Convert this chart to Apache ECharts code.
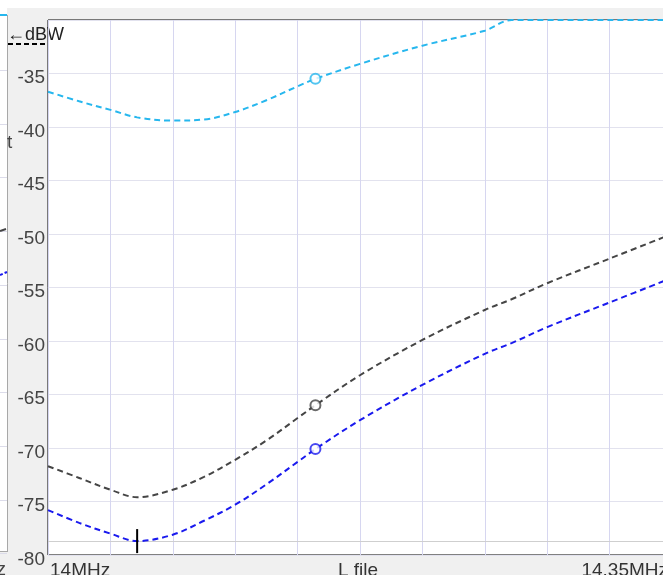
<!DOCTYPE html>
<html><head><meta charset="utf-8">
<script src="https://cdn.jsdelivr.net/npm/echarts@6/dist/echarts.min.js"></script>
<style>html,body{margin:0;padding:0;background:#f0f0f0;overflow:hidden}#c{width:663px;height:575px}</style>
</head><body><div id="c"></div>
<script>
// Frequencies (MHz)
const freqs   = [14.0, 14.0175, 14.035, 14.05, 14.07, 14.0875, 14.105, 14.1225, 14.14, 14.15, 14.175, 14.21, 14.245, 14.26, 14.28, 14.315, 14.35];
// Levels (dBW)
const cyanDbw = [-36.7, -37.6, -38.4, -39.1, -39.4, -39.3, -38.6, -37.5, -36.2, -35.5, -34.1, -32.4, -31.0, -30.0, -30.0, -30.0, -30.0];
const grayDbw = [-71.7, -72.8, -73.9, -74.6, -73.9, -72.7, -71.1, -69.3, -67.2, -66.0, -63.2, -59.9, -57.1, -56.1, -54.6, -52.3, -50.0];
const blueDbw = [-75.8, -77.0, -78.0, -78.7, -78.1, -76.8, -75.3, -73.4, -71.3, -70.1, -67.4, -64.1, -61.2, -60.2, -58.7, -56.4, -54.1];
const markerIndex = 9;   // 14.15 MHz
const minIndex = 3;      // 14.05 MHz
const yMin = -80, yMax = -30, yStep = 5;
const xMin = 14.0, xMax = 14.35, xStep = 0.035;
const unitLabel = '←dBW';
const xLabels = ['14MHz', 'L file', '14.35MHz'];

const FONT = '"Liberation Sans", Arial, sans-serif';
const pairs = arr => freqs.map((f, i) => [f, arr[i]]);
const dash = [6, 4];

const chart = echarts.init(document.getElementById('c'), null, {renderer: 'canvas'});

const leftGridYs = [];
for (let k = 0; k < 10; k++) leftGridYs.push(70 + 53.7 * k);

const graphics = [
  {type: 'rect', shape: {x: 0, y: 0, width: 663, height: 8}, style: {fill: '#fff'}, silent: true},
  {type: 'rect', shape: {x: 0, y: 0, width: 7, height: 552}, style: {fill: '#fff'}, silent: true},
  ...leftGridYs.map(y => ({type: 'line', shape: {x1: 0, y1: Math.round(y) + 0.5, x2: 7, y2: Math.round(y) + 0.5}, style: {stroke: '#dcdcea', lineWidth: 1}, silent: true})),
  {type: 'line', shape: {x1: 7.5, y1: 15, x2: 7.5, y2: 552}, style: {stroke: '#a8a8a8', lineWidth: 1}, silent: true},
  {type: 'line', shape: {x1: 0, y1: 551.5, x2: 7.5, y2: 551.5}, style: {stroke: '#a8a8a8', lineWidth: 1}, silent: true},
  {type: 'line', shape: {x1: 0, y1: 15, x2: 7, y2: 15}, style: {stroke: '#27b7ee', lineWidth: 2}, silent: true},
  {type: 'line', shape: {x1: 0, y1: 231, x2: 6, y2: 229}, style: {stroke: '#454545', lineWidth: 2}, silent: true},
  {type: 'line', shape: {x1: 0, y1: 275, x2: 7, y2: 272}, style: {stroke: '#1a1aee', lineWidth: 2, lineDash: [3, 2]}, silent: true},
  {type: 'text', style: {text: 't', x: 7, y: 143, font: '19px ' + FONT, fill: '#444', verticalAlign: 'middle'}, silent: true},
  {type: 'text', style: {text: 'z', x: 6, y: 570, font: '19px ' + FONT, fill: '#444', align: 'right', verticalAlign: 'middle'}, silent: true},
  {type: 'text', style: {text: unitLabel, x: 7, y: 35, font: '18px ' + FONT, fill: '#222', verticalAlign: 'middle'}, silent: true},
  {type: 'line', shape: {x1: 8, y1: 44, x2: 46, y2: 44}, style: {stroke: '#000', lineWidth: 2, lineDash: [5, 3]}, silent: true},
  {type: 'text', style: {text: xLabels[0], x: 50, y: 571, font: '19px ' + FONT, fill: '#333', verticalAlign: 'middle'}, silent: true},
  {type: 'text', style: {text: xLabels[1], x: 338, y: 571, font: '19px ' + FONT, fill: '#333', verticalAlign: 'middle'}, silent: true},
  {type: 'text', style: {text: xLabels[2], x: 668, y: 571, font: '19px ' + FONT, fill: '#333', align: 'right', verticalAlign: 'middle'}, silent: true}
];

function lineSeries(arr, color, extra) {
  return Object.assign({
    type: 'line', data: pairs(arr), smooth: 0.35, symbol: 'none', z: 3,
    lineStyle: {color: color, width: 2, type: dash}
  }, extra || {});
}
function markerSeries(arr, color) {
  return {
    type: 'scatter', data: [[freqs[markerIndex], arr[markerIndex]]], symbol: 'emptyCircle', symbolSize: 10, z: 4,
    itemStyle: {color: color, borderColor: color, borderWidth: 2}
  };
}

chart.setOption({
  backgroundColor: '#f0f0f0',
  animation: false,
  grid: {left: 48, top: 20, width: 624, height: 535, outerBoundsMode: 'none', containLabel: false,
    show: true, backgroundColor: '#fff', borderColor: '#000', borderWidth: 1},
  xAxis: {
    type: 'value', min: xMin, max: xMax, interval: xStep,
    axisLine: {show: false}, axisTick: {show: false}, axisLabel: {show: false},
    splitLine: {show: true, lineStyle: {color: '#d6d6f0', width: 1}}
  },
  yAxis: {
    type: 'value', min: yMin, max: yMax, interval: yStep,
    axisLine: {show: false}, axisTick: {show: false},
    axisLabel: {color: '#444', fontSize: 19, fontFamily: FONT, margin: 3, verticalAlign: 'top', lineHeight: 9,
      formatter: v => (v === yMax ? '' : String(v))},
    splitLine: {show: true, lineStyle: {color: '#e2e2ee', width: 1}}
  },
  series: [
    lineSeries(cyanDbw, '#27b7ee', {clip: false}),
    lineSeries(grayDbw, '#454545'),
    lineSeries(blueDbw, '#1a1aee', {
      markLine: {symbol: 'none', silent: true, label: {show: false}, z: 1,
        lineStyle: {color: '#cfcfcf', type: 'solid', width: 1},
        data: [{yAxis: blueDbw[minIndex]}]},
      markPoint: {symbol: 'rect', symbolSize: [2, 24], silent: true, label: {show: false},
        itemStyle: {color: '#000'},
        data: [{coord: [freqs[minIndex], blueDbw[minIndex]]}]}
    }),
    markerSeries(cyanDbw, '#27b7ee'),
    markerSeries(grayDbw, '#454545'),
    markerSeries(blueDbw, '#1a1aee')
  ],
  graphic: graphics
});
</script>
</body></html>
